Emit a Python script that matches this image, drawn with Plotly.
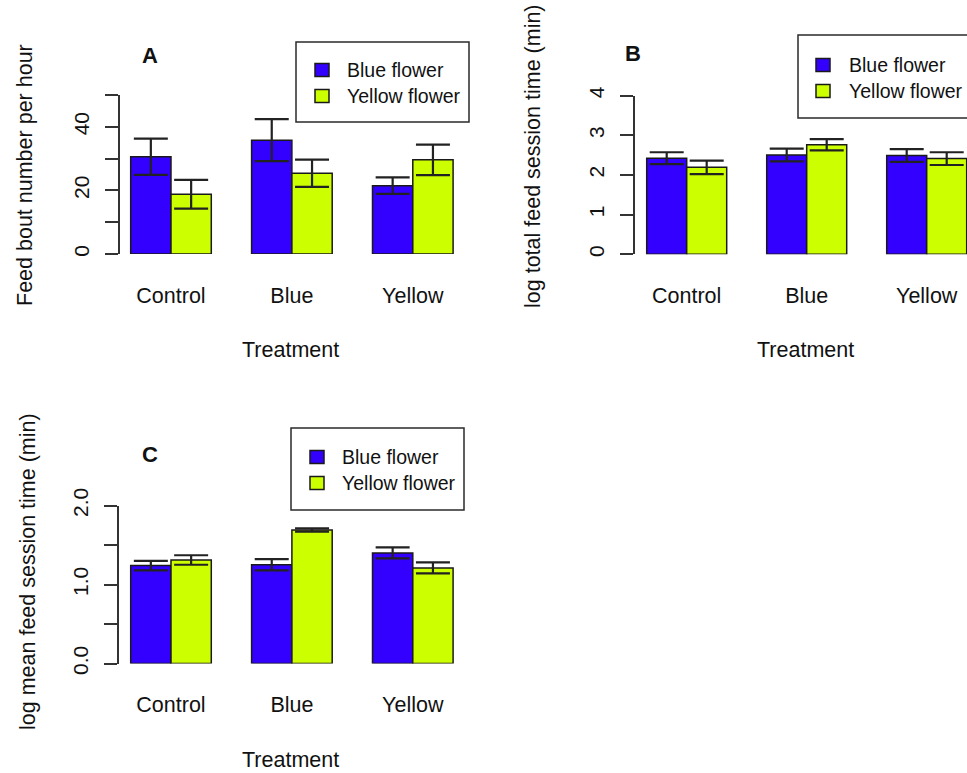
import plotly.graph_objects as go

# ---------------- data ----------------
treatments = ["Control", "Blue", "Yellow"]
series_names = ["Blue flower", "Yellow flower"]

# Panel A: feed bout number per hour
a_blue = [30.6, 35.8, 21.5]
a_blue_err = [5.7, 6.6, 2.6]
a_yellow = [18.8, 25.4, 29.6]
a_yellow_err = [4.5, 4.3, 4.8]
a_ticks = [0, 10, 20, 30, 40, 50]
a_ticktext = ["0", "", "20", "", "40", ""]

# Panel B: log total feed session time (min)
b_blue = [2.42, 2.50, 2.49]
b_blue_err = [0.15, 0.16, 0.16]
b_yellow = [2.19, 2.76, 2.41]
b_yellow_err = [0.17, 0.14, 0.16]
b_ticks = [0, 1, 2, 3, 4]
b_ticktext = ["0", "1", "2", "3", "4"]

# Panel C: log mean feed session time (min)
c_blue = [1.24, 1.25, 1.40]
c_blue_err = [0.06, 0.07, 0.07]
c_yellow = [1.31, 1.69, 1.21]
c_yellow_err = [0.06, 0.02, 0.07]
c_ticks = [0, 0.5, 1.0, 1.5, 2.0]
c_ticktext = ["0.0", "", "1.0", "", "2.0"]

# ---------------- style ----------------
W, H = 967, 773
BLUE = "#3300ff"
YELLOW = "#ccff00"
FONT = "Liberation Sans, Arial, sans-serif"
TXT = "#111111"
LINE = "#333333"


def px(x):
    return x / W


def py(y):
    return 1 - y / H


fig = go.Figure()

panels = [
    ("x", "y", a_blue, a_blue_err, a_yellow, a_yellow_err),
    ("x2", "y2", b_blue, b_blue_err, b_yellow, b_yellow_err),
    ("x3", "y3", c_blue, c_blue_err, c_yellow, c_yellow_err),
]
for xa, ya, bv, be, yv, ye in panels:
    for name, vals, errs, col in [(series_names[0], bv, be, BLUE), (series_names[1], yv, ye, YELLOW)]:
        fig.add_trace(go.Bar(
            x=treatments, y=vals, name=name, xaxis=xa, yaxis=ya,
            marker=dict(color=col, line=dict(color="#1a1a1a", width=1.5)),
            error_y=dict(type="data", array=errs, visible=True, color="#222222",
                         thickness=2.2, width=17),
            showlegend=False,
        ))


def xaxis_cfg(domain, rng):
    return dict(domain=domain, range=rng, type="category", showline=False, showgrid=False,
                zeroline=False, ticks="", ticklabelstandoff=26, automargin=False,
                tickfont=dict(family=FONT, size=21.5, color=TXT), fixedrange=True)


def yaxis_cfg(domain, rng, tv, tt, anchor):
    return dict(domain=domain, range=rng, anchor=anchor, showline=True, linecolor=LINE,
                linewidth=2, ticks="outside", ticklen=13, tickwidth=2, tickcolor=LINE,
                tickvals=tv, ticktext=tt, tickangle=-90, showgrid=False, zeroline=False,
                ticklabelstandoff=8, automargin=False,
                tickfont=dict(family=FONT, size=21, color=TXT), fixedrange=True)


fig.update_layout(
    template="none",
    width=W, height=H, autosize=False,
    margin=dict(l=0, r=0, t=0, b=0, pad=0, autoexpand=False),
    paper_bgcolor="white", plot_bgcolor="white",
    barmode="group", bargap=1 / 3, bargroupgap=0,
    font=dict(family=FONT, color=TXT),
    xaxis=xaxis_cfg([px(120), px(466)], [-0.4217, 2.44]) | dict(anchor="y"),
    yaxis=yaxis_cfg([py(254), py(95)], [0, 50], a_ticks, a_ticktext, "x"),
    xaxis2=xaxis_cfg([px(635), 1.0], [-0.4308, 2.3358]) | dict(anchor="y2"),
    yaxis2=yaxis_cfg([py(254.3), py(95.5)], [0, 4], b_ticks, b_ticktext, "x2"),
    xaxis3=xaxis_cfg([px(119), px(466)], [-0.43, 2.44]) | dict(anchor="y3"),
    yaxis3=yaxis_cfg([py(663.5), py(505.5)], [0, 2], c_ticks, c_ticktext, "x3"),
)

ann = []
shapes = []


def text(x, y, s, size=21.5, angle=0, bold=False, xanchor="center"):
    ann.append(dict(x=px(x), y=py(y), xref="paper", yref="paper", text=f"<b>{s}</b>" if bold else s,
                    showarrow=False, textangle=angle, xanchor=xanchor, yanchor="middle",
                    font=dict(family=FONT, size=size, color=TXT)))


# panel letters
text(150, 55, "A", size=22, bold=True)
text(633, 53, "B", size=22, bold=True)
text(150, 455, "C", size=22, bold=True)

# axis titles
text(290, 350, "Treatment")
text(805, 350, "Treatment")
text(290, 760, "Treatment")
text(25, 175, "Feed bout number per hour", angle=-90)
text(533, 156, "log total feed session time (min)", angle=-90)
text(28, 572, "log mean feed session time (min)", angle=-90)


def legend(x0, y0, x1, y1, sq_x, tx, rows):
    shapes.append(dict(type="rect", xref="paper", yref="paper", x0=px(x0), x1=px(x1),
                       y0=py(y1), y1=py(y0), line=dict(color="#2a2a2a", width=1.5),
                       fillcolor="white", layer="above"))
    for (name, col), ry in zip([(series_names[0], BLUE), (series_names[1], YELLOW)], rows):
        shapes.append(dict(type="rect", xref="paper", yref="paper", x0=px(sq_x - 7), x1=px(sq_x + 7),
                           y0=py(ry + 6.5), y1=py(ry - 6.5), fillcolor=col,
                           line=dict(color="#1a1a1a", width=1.5), layer="above"))
        text(tx, ry, name, size=19.5, xanchor="left")


legend(296, 42, 469, 122, 322, 345, [70, 96])
legend(798, 35, 1000, 118, 823, 847, [65, 91])
legend(291, 428, 464, 510, 317, 340, [457, 483])

fig.update_layout(annotations=ann, shapes=shapes)
fig.write_html("out.html")
